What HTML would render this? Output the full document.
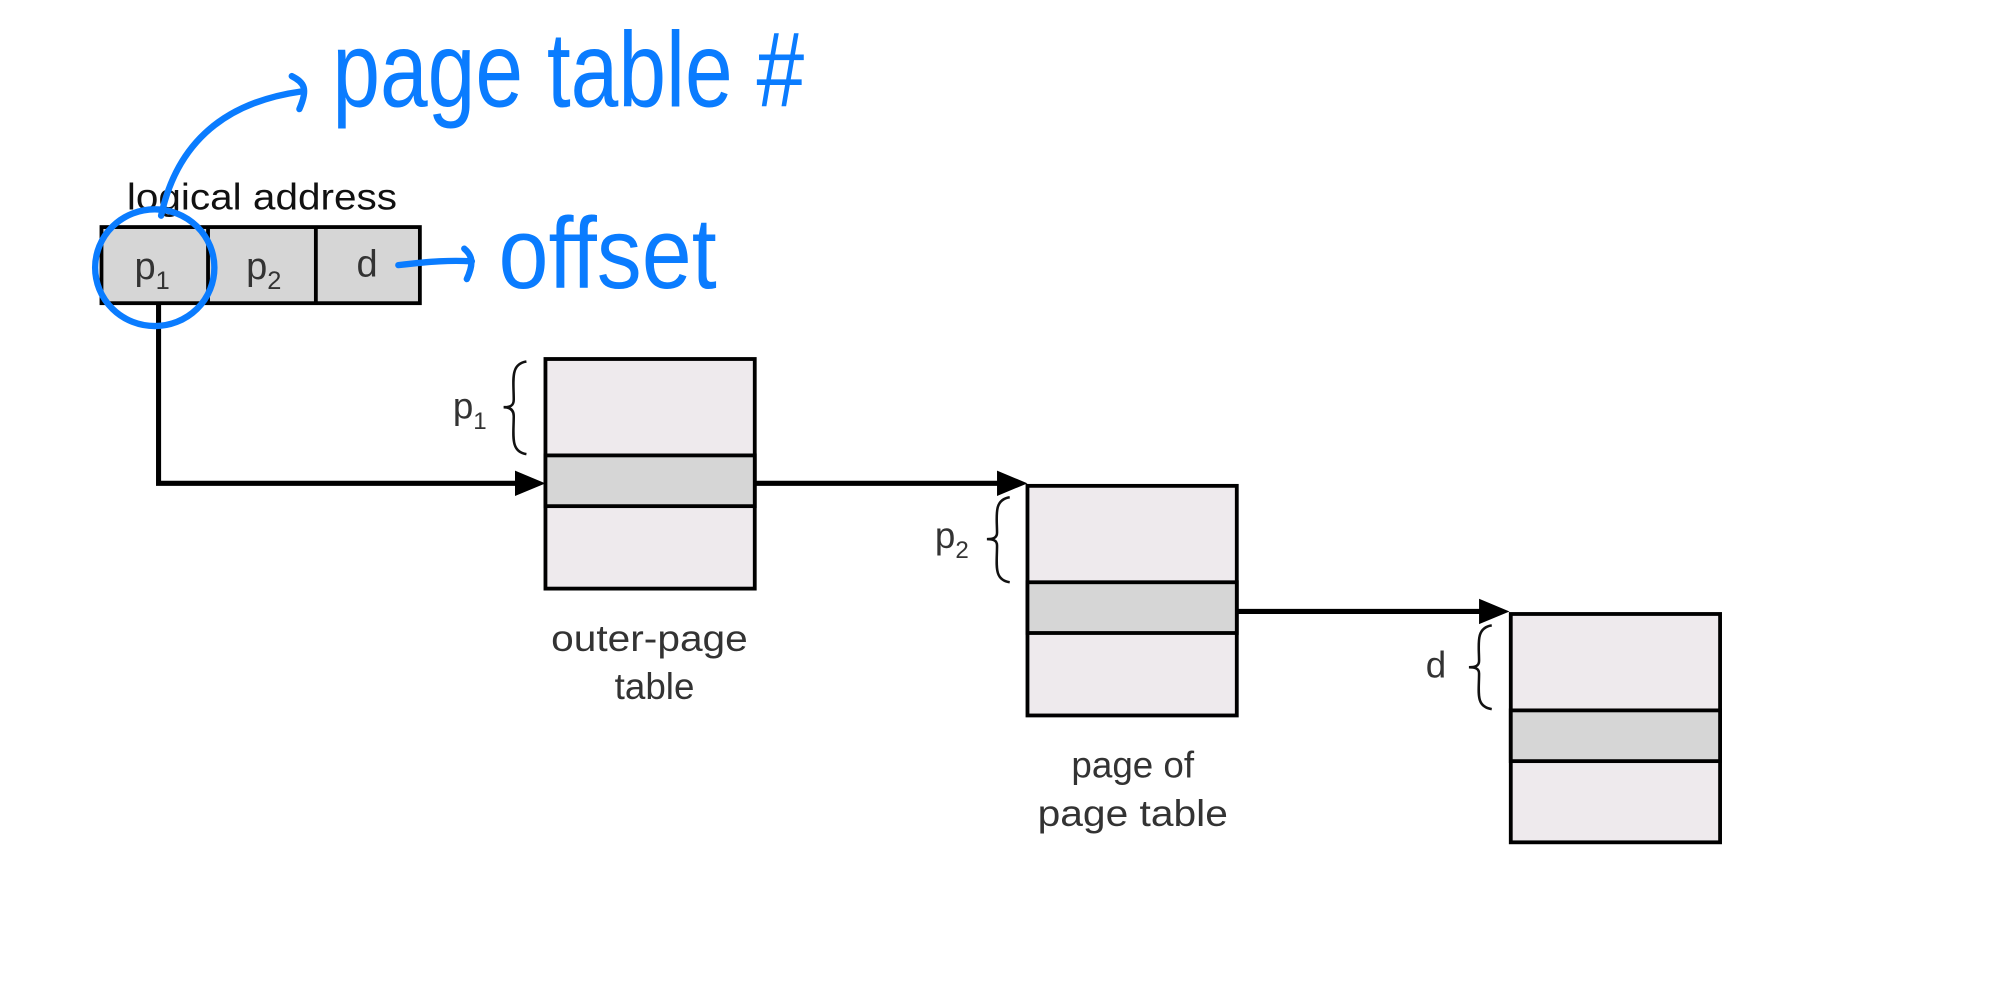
<!DOCTYPE html>
<html><head><meta charset="utf-8"><style>
html,body{margin:0;padding:0;background:#fff;}
svg{display:block;}
</style></head><body>
<svg width="1989" height="1000" viewBox="0 0 1568 788.3" preserveAspectRatio="none" xmlns="http://www.w3.org/2000/svg">
<rect width="1568" height="790" fill="#fff"/>
<g font-family="Liberation Sans, sans-serif">
<text x="100" y="165" font-size="29" fill="#111" textLength="213" lengthAdjust="spacingAndGlyphs">logical address</text>
<rect x="80" y="179" width="251" height="60" fill="#d6d6d6" stroke="#000" stroke-width="3"/>
<line x1="164" y1="179" x2="164" y2="239" stroke="#000" stroke-width="3"/>
<line x1="249" y1="179" x2="249" y2="239" stroke="#000" stroke-width="3"/>
<text x="106" y="220" font-size="30" fill="#333">p<tspan font-size="20" dy="8">1</tspan></text>
<text x="194" y="220" font-size="30" fill="#333">p<tspan font-size="20" dy="8">2</tspan></text>
<text x="281" y="218" font-size="30" fill="#333">d</text>

<polyline points="125,239 125,381 410,381" fill="none" stroke="#000" stroke-width="4"/>
<polygon points="406,371 430,381 406,391" fill="#000"/>
<line x1="595" y1="381" x2="790" y2="381" stroke="#000" stroke-width="4"/>
<polygon points="786,371 810,381 786,391" fill="#000"/>
<line x1="975" y1="482" x2="1170" y2="482" stroke="#000" stroke-width="4"/>
<polygon points="1166,472 1190,482 1166,492" fill="#000"/>

<g stroke="#000" stroke-width="3">
<rect x="430" y="283" width="165" height="181" fill="#eeeaed"/>
<rect x="430" y="359" width="165" height="40" fill="#d6d6d6"/>
<rect x="810" y="383" width="165" height="181" fill="#eeeaed"/>
<rect x="810" y="459" width="165" height="40" fill="#d6d6d6"/>
<rect x="1191" y="484" width="165" height="180" fill="#eeeaed"/>
<rect x="1191" y="560" width="165" height="40" fill="#d6d6d6"/>
</g>
<g fill="none" stroke="#111" stroke-width="2">
<path d="M415,285 C402,287 405,300 405,315 C405,320 402,321 397,321 C402,321 405,323 405,328 C405,343 402,356 415,358"/>
<path d="M796,392 C783,394 786,407 786,420 C786,424 783,425 778,425 C783,425 786,426 786,430 C786,445 783,457 796,459"/>
<path d="M1176,493 C1163,495 1166,508 1166,521 C1166,525 1163,526 1158,526 C1163,526 1166,527 1166,531 C1166,546 1163,557 1176,559"/>
</g>
<text x="357" y="330" font-size="29" fill="#333">p<tspan font-size="19" dy="8">1</tspan></text>
<text x="737" y="432" font-size="29" fill="#333">p<tspan font-size="19" dy="8">2</tspan></text>
<text x="1124" y="534" font-size="29" fill="#333">d</text>

<g font-size="29" fill="#333" text-anchor="middle">
<text x="512" y="513" textLength="155" lengthAdjust="spacingAndGlyphs">outer-page</text>
<text x="516" y="551">table</text>
<text x="893" y="613">page of</text>
<text x="893" y="651" textLength="150" lengthAdjust="spacingAndGlyphs">page table</text>
</g>

<g stroke="#0a7cff" fill="none" stroke-width="5" stroke-linecap="round">
<ellipse cx="122" cy="211" rx="47" ry="46"/>
<path d="M127,170 C140,110 180,80 238,72"/>
<path d="M230,60 C240,65 243,70 236,86"/>
<path d="M314,209 C340,206 355,205 372,206"/>
<path d="M366,196 C372,201 374,207 368,220"/>
</g>
<g fill="#0a7cff" font-family="Liberation Sans, sans-serif">
<text x="262" y="84" font-size="84" textLength="372" lengthAdjust="spacingAndGlyphs">page table #</text>
<text x="393" y="227" font-size="80" textLength="172" lengthAdjust="spacingAndGlyphs">offset</text>
</g>
</g>
</svg>
</body></html>
